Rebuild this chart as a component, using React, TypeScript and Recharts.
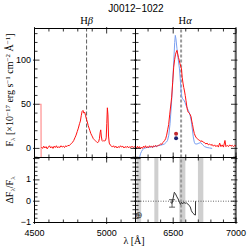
import React from 'react';
import { ComposedChart, Line, XAxis, YAxis, ReferenceLine, ReferenceArea, ReferenceDot, ErrorBar } from 'recharts';

// ---------------- data ----------------
const titleText = 'J0012−1022';
const hBetaWave = 4861;
const hAlphaWave = 6563;

// edge artefact (pink) in the blue arm
const edgeWave = [4532, 4545, 4546];
const edgeFlux = [50, 50, -12];

// blue-arm spectrum (red line)
const leftWave = [4548, 4556, 4564, 4572, 4580, 4588, 4596, 4604, 4612, 4620, 4628, 4636, 4644, 4652, 4660, 4668, 4676, 4684, 4692, 4700, 4708, 4716, 4724, 4732, 4740, 4748, 4756, 4764, 4772, 4780, 4788, 4796, 4804, 4812, 4818, 4824, 4830, 4836, 4842, 4848, 4854, 4860, 4866, 4872, 4878, 4884, 4890, 4896, 4902, 4908, 4914, 4920, 4926, 4932, 4938, 4944, 4950, 4955, 4959, 4963, 4968, 4974, 4980, 4986, 4992, 4997, 5001, 5005, 5009, 5013, 5018, 5024, 5032, 5040, 5048, 5056, 5064, 5072, 5080, 5088, 5096, 5104, 5112, 5120, 5128, 5136, 5144, 5152, 5160, 5168, 5176, 5184, 5192, 5200];
const leftFlux = [1.5, 0, 2.5, 0.5, 2, -0.5, 1.5, 3, 0.5, 2, 0, 2.5, 1, 3, 0.5, 2, 1, 3, 1.5, 2.5, 1, 3, 2, 3.5, 3, 4.5, 5.5, 7, 9, 12, 15, 19, 23, 28, 31, 37, 42, 43, 40, 41, 37, 33, 30, 26, 23, 20, 17, 15, 13, 11, 10, 9, 8, 7, 6.5, 7.5, 11, 18, 21, 14, 9, 8, 9, 8.5, 9, 12, 28, 46, 38, 14, 6, 4, 3, 1.5, 3, 1, 2.5, 0.5, 2, 1, 3, 1.5, 2.5, 0.5, 2, 1, 2.5, 0.5, 2, 1, 2.5, 1, 2, 1];

// red-arm spectrum (red line)
const rightWave = [6200, 6208, 6216, 6224, 6232, 6240, 6248, 6256, 6264, 6272, 6280, 6288, 6296, 6304, 6312, 6320, 6328, 6336, 6344, 6352, 6360, 6368, 6376, 6384, 6392, 6400, 6408, 6416, 6424, 6432, 6440, 6448, 6456, 6464, 6472, 6480, 6488, 6496, 6504, 6512, 6518, 6524, 6530, 6536, 6542, 6548, 6554, 6560, 6566, 6572, 6578, 6584, 6590, 6596, 6602, 6608, 6614, 6620, 6628, 6636, 6642, 6648, 6654, 6660, 6668, 6676, 6684, 6692, 6700, 6710, 6720, 6730, 6740, 6750, 6760, 6770, 6780, 6790, 6800, 6810, 6820, 6830, 6840, 6850, 6860, 6870, 6880, 6890, 6900, 6912, 6920, 6930, 6940, 6950, 6960, 6970, 6980, 6990, 7000];
const rightFlux = [1.5, 0, 2.5, 0.5, 2, -0.5, 1.5, 0, 2.5, 1, 3, 0.5, 2, 1, 3, 1.5, 2.5, 1, 3, 2, 3.5, 2, 3, 3.5, 4, 5, 4.5, 6.5, 7.5, 9, 11, 15, 21, 27, 38, 48, 58, 75, 92, 101, 106, 109, 111, 107, 103, 100, 96, 93, 90, 80, 74, 69, 65, 60, 54, 48, 43, 41, 40, 38, 36, 31, 27, 22, 17, 14, 12, 11, 10, 9, 8, 8.5, 7, 6.5, 5, 6, 4, 5, 3.5, 4.5, 2.5, 4, 2, 3.5, 1.5, 6, 2, 4, 1.5, 9, 2, 3.5, 2, 4, 2.5, 3.5, 2, 3.5, 2.5];

// model (blue line)
const modelWave = [6232, 6240, 6248, 6256, 6268, 6290, 6320, 6350, 6380, 6410, 6430, 6445, 6455, 6465, 6475, 6485, 6495, 6505, 6512, 6517, 6522, 6530, 6540, 6550, 6558, 6566, 6574, 6584, 6594, 6604, 6614, 6624, 6634, 6644, 6652, 6660, 6668, 6676, 6690, 6705, 6720, 6735, 6750, 6770, 6790, 6810];
const modelFlux = [-10.5, -6, -3.5, -1.5, 0, 1, 1.5, 2, 3, 4, 5, 7, 9, 15, 28, 48, 72, 100, 120, 128, 124, 113, 101, 90, 75, 60, 56, 55, 52, 48, 45, 42, 38, 31, 22, 13, 7, 5, 5, 6, 6.5, 4, 2, 1, 0.5, 0];

// markers
const markWave = 6523;
const markRed = 16.7;
const markNavy = 11.4;

// residuals
const residWave = [6478, 6491, 6500, 6509, 6518, 6530, 6540, 6550, 6558, 6566, 6575, 6585, 6595, 6605, 6615, 6625, 6635, 6645, 6655, 6665, 6672, 6677, 6678];
const residVal = [-0.05, -0.1, 0.15, 0.42, 0.35, 0.2, 0.1, -0.05, -0.15, -0.05, -0.13, -0.05, -0.1, -0.08, -0.12, -0.2, -0.25, -0.45, -0.55, -0.6, -0.65, -0.65, 0];
const residErr: (number[] | undefined)[] = [undefined, [0.18, 0.17]];

// masked bands
const maskBands = [[6350, 6382], [6549, 6597], [6697, 6740]];
const hatchBand = [6208, 6245];
const edgeBand = [6985, 7000];

// ticks
const topYTicks = [-10, 0, 10, 20, 30, 40, 50, 60, 70, 80, 90, 100, 110, 120, 130];
const topYMajor = [0, 50, 100];
const botYTicks = [-1, -0.8, -0.6, -0.4, -0.2, 0, 0.2, 0.4, 0.6, 0.8, 1, 1.2, 1.4, 1.6, 1.8, 2];
const botYMajor = [-1, 0, 1, 2];
const botYLabels = [-1, 0, 1];
const leftXTicks = [4500, 4600, 4700, 4800, 4900, 5000, 5100, 5200];
const leftXMajor = [4500, 5000];
const rightXTicks = [6200, 6300, 6400, 6500, 6600, 6700, 6800, 6900, 7000];
const rightXMajor = [6500, 7000];

const rows = (w: number[], f: number[], e?: any[]) => w.map((x, i) => ({ w: x, f: f[i], e: e ? e[i] : undefined }));

// ---------------- helpers ----------------
const SANS = 'Liberation Sans, Arial, sans-serif';
const SERIF = 'Liberation Serif, Times New Roman, serif';
const fmt = (v: number) => (v < 0 ? '−' + Math.abs(v) : String(v));
const isIn = (arr: number[], v: number) => arr.some((m) => Math.abs(m - v) < 1e-6);

function makeTick(side: string, majors: number[], labels: number[]) {
  return (p: any) => {
    const { x, y, payload } = p;
    const v = payload.value;
    const maj = isIn(majors, v);
    const inn = maj ? 5 : 3;
    const out = maj ? 1.5 : 0;
    let l: any;
    if (side === 'left') l = { x1: x - out, x2: x + inn, y1: y, y2: y };
    else if (side === 'right') l = { x1: x + out, x2: x - inn, y1: y, y2: y };
    else if (side === 'top') l = { x1: x, x2: x, y1: y - out, y2: y + inn };
    else l = { x1: x, x2: x, y1: y + out, y2: y - inn };
    let lab = null;
    if (isIn(labels, v)) {
      if (side === 'left')
        lab = (
          <text x={x - 3.5} y={y + 2.6} textAnchor="end" fontSize={9} fontFamily={SANS} fill="#000">
            {fmt(v)}
          </text>
        );
      else if (side === 'bottom')
        lab = (
          <text x={x} y={y + 13} textAnchor="middle" fontSize={9} fontFamily={SANS} fill="#000">
            {fmt(v)}
          </text>
        );
    }
    return (
      <g>
        <line {...l} stroke="#000" strokeWidth={0.8} />
        {lab}
      </g>
    );
  };
}

type Box = { l: number; r: number; t: number; b: number };
type PanelProps = {
  box: Box;
  xDomain: number[];
  yDomain: number[];
  xTicks: number[];
  xMajor: number[];
  xLabels: number[];
  yTicks: number[];
  yMajor: number[];
  yLabels: number[];
  children?: any;
};

const AX = 8; // axis band size (plot box is margin + AX)

function Panel(p: PanelProps) {
  const margin = { left: p.box.l - AX, right: 249 - p.box.r - AX, top: p.box.t - AX, bottom: 249 - p.box.b - AX };
  const axisLine = { stroke: '#000', strokeWidth: 1 };
  return (
    <div style={{ position: 'absolute', left: 0, top: 0, width: 249, height: 249 }}>
      <ComposedChart width={249} height={249} margin={margin}>
        <XAxis dataKey="w" type="number" domain={p.xDomain} ticks={p.xTicks} interval={0} height={AX} tickSize={0} tickMargin={0} tickLine={false} axisLine={axisLine} tick={makeTick('bottom', p.xMajor, p.xLabels)} allowDataOverflow />
        <XAxis xAxisId="t" orientation="top" dataKey="w" type="number" domain={p.xDomain} ticks={p.xTicks} interval={0} height={AX} tickSize={0} tickMargin={0} tickLine={false} axisLine={axisLine} tick={makeTick('top', p.xMajor, [])} allowDataOverflow />
        <YAxis type="number" domain={p.yDomain} ticks={p.yTicks} interval={0} width={AX} tickSize={0} tickMargin={0} tickLine={false} axisLine={axisLine} tick={makeTick('left', p.yMajor, p.yLabels)} allowDataOverflow />
        <YAxis yAxisId="r" orientation="right" type="number" domain={p.yDomain} ticks={p.yTicks} interval={0} width={AX} tickSize={0} tickMargin={0} tickLine={false} axisLine={axisLine} tick={makeTick('right', p.yMajor, [])} allowDataOverflow />
        {p.children}
      </ComposedChart>
    </div>
  );
}

const greekLabel = (main: string, greek: string, dx: number) => (props: any) => {
  const vb = props.viewBox || {};
  return (
    <text x={(vb.x || 0) + dx} y={(vb.y || 0) - 5} textAnchor="middle" fontSize={10.5} fontFamily={SERIF} fill="#000">
      {main}
      <tspan fontStyle="italic">{greek}</tspan>
    </text>
  );
};

const TOP_Y = [-10.3, 135.8];
const BOT_Y = [-1.0, 2.05];
const LEFT_X = [4500, 5200];
const RIGHT_X = [6200, 7000];

export default function App() {
  const bTL = { l: 34.5, r: 135.5, t: 28.5, b: 157.5 };
  const bTR = { l: 135.5, r: 236, t: 28.5, b: 157.5 };
  const bBL = { l: 34.5, r: 135.5, t: 157.5, b: 222.5 };
  const bBR = { l: 135.5, r: 236, t: 157.5, b: 222.5 };
  const edgeRows = rows(edgeWave, edgeFlux);
  const leftRows = rows(leftWave, leftFlux);
  const rightRows = rows(rightWave, rightFlux);
  const modelRows = rows(modelWave, modelFlux);
  const residRows = rows(residWave, residVal, residErr);

  return (
    <div style={{ position: 'absolute', left: 0, top: 0, width: 249, height: 249, background: '#fff', overflow: 'hidden' }}>
      {/* top left */}
      <Panel box={bTL} xDomain={LEFT_X} yDomain={TOP_Y} xTicks={leftXTicks} xMajor={leftXMajor} xLabels={[]} yTicks={topYTicks} yMajor={topYMajor} yLabels={topYMajor}>
        <ReferenceLine x={hBetaWave} stroke="#333" strokeWidth={0.8} strokeDasharray="4 2" label={greekLabel('H', 'β', 0)} />
        <Line data={edgeRows} dataKey="f" type="linear" stroke="#ff8f8f" strokeWidth={1.2} dot={false} isAnimationActive={false} />
        <Line data={leftRows} dataKey="f" type="linear" stroke="#ff1010" strokeWidth={1} dot={false} isAnimationActive={false} />
      </Panel>
      {/* top right */}
      <Panel box={bTR} xDomain={RIGHT_X} yDomain={TOP_Y} xTicks={rightXTicks} xMajor={rightXMajor} xLabels={[]} yTicks={topYTicks} yMajor={topYMajor} yLabels={[]}>
        <ReferenceArea x1={edgeBand[0]} x2={edgeBand[1]} fill="#c4c4c4" fillOpacity={1} stroke="none" />
        <ReferenceLine x={hAlphaWave} stroke="#9a9a9a" strokeWidth={2} strokeDasharray="3 2" label={greekLabel('H', 'α', 4)} />
        <Line data={modelRows} dataKey="f" type="linear" stroke="#7a9ff0" strokeWidth={1} dot={false} isAnimationActive={false} />
        <Line data={rightRows} dataKey="f" type="linear" stroke="#ff1010" strokeWidth={1} dot={false} isAnimationActive={false} />
        <ReferenceDot x={markWave} y={markRed} r={2} fill="#c0282e" stroke="none" />
        <ReferenceDot x={markWave} y={markNavy} r={2} fill="#1c2470" stroke="none" />
      </Panel>
      {/* bottom left */}
      <Panel box={bBL} xDomain={LEFT_X} yDomain={BOT_Y} xTicks={leftXTicks} xMajor={leftXMajor} xLabels={leftXMajor} yTicks={botYTicks} yMajor={botYMajor} yLabels={botYLabels} />
      {/* bottom right */}
      <Panel box={bBR} xDomain={RIGHT_X} yDomain={BOT_Y} xTicks={rightXTicks} xMajor={rightXMajor} xLabels={rightXMajor} yTicks={botYTicks} yMajor={botYMajor} yLabels={[]}>
        <ReferenceArea x1={hatchBand[0]} x2={hatchBand[1]} fill="#d4d4d4" fillOpacity={1} stroke="none" />
        {maskBands.map((b, i) => (
          <ReferenceArea key={i} x1={b[0]} x2={b[1]} fill="#cfcfcf" fillOpacity={1} stroke="none" />
        ))}
        <ReferenceArea x1={edgeBand[0]} x2={edgeBand[1]} fill="#c4c4c4" fillOpacity={1} stroke="none" />
        <ReferenceLine y={0} stroke="#444" strokeWidth={0.8} strokeDasharray="1 1.5" />
        <ReferenceLine x={hAlphaWave} stroke="#9a9a9a" strokeWidth={2} strokeDasharray="3 2" />
        <Line data={residRows} dataKey="f" type="linear" stroke="#333" strokeWidth={1} dot={false} isAnimationActive={false}>
          <ErrorBar dataKey="e" width={3} stroke="#333" strokeWidth={0.8} direction="y" />
        </Line>
      </Panel>
      {/* text overlay */}
      <svg width={249} height={249} style={{ position: 'absolute', left: 0, top: 0, pointerEvents: 'none' }}>
        <text x={136} y={12} textAnchor="middle" fontSize={10} fontFamily={SANS} fill="#000">{titleText}</text>
        <text transform="translate(13,90) rotate(-90)" textAnchor="middle" fontSize={10} fontFamily={SERIF} fill="#000">
          F<tspan fontSize={7} dy={2}>λ</tspan>
          <tspan dy={-2}> [×10</tspan>
          <tspan fontSize={7} dy={-3.5}>−17</tspan>
          <tspan dy={3.5}> erg s</tspan>
          <tspan fontSize={7} dy={-3.5}>−1</tspan>
          <tspan dy={3.5}> cm</tspan>
          <tspan fontSize={7} dy={-3.5}>−2</tspan>
          <tspan dy={3.5}> Å</tspan>
          <tspan fontSize={7} dy={-3.5}>−1</tspan>
          <tspan dy={3.5}>]</tspan>
        </text>
        <text transform="translate(13,190) rotate(-90)" textAnchor="middle" fontSize={10} fontFamily={SERIF} fill="#000">
          ΔF<tspan fontSize={7} dy={2}>λ</tspan>
          <tspan dy={-2}>/F</tspan>
          <tspan fontSize={7} dy={2}>λ</tspan>
        </text>
        <text x={134} y={244} textAnchor="middle" fontSize={10} fontFamily={SERIF} fill="#000">λ [Å]</text>
        <text x={139} y={218} textAnchor="middle" fontSize={9} fontFamily={SERIF} fill="#333">⊕</text>
      </svg>
    </div>
  );
}
